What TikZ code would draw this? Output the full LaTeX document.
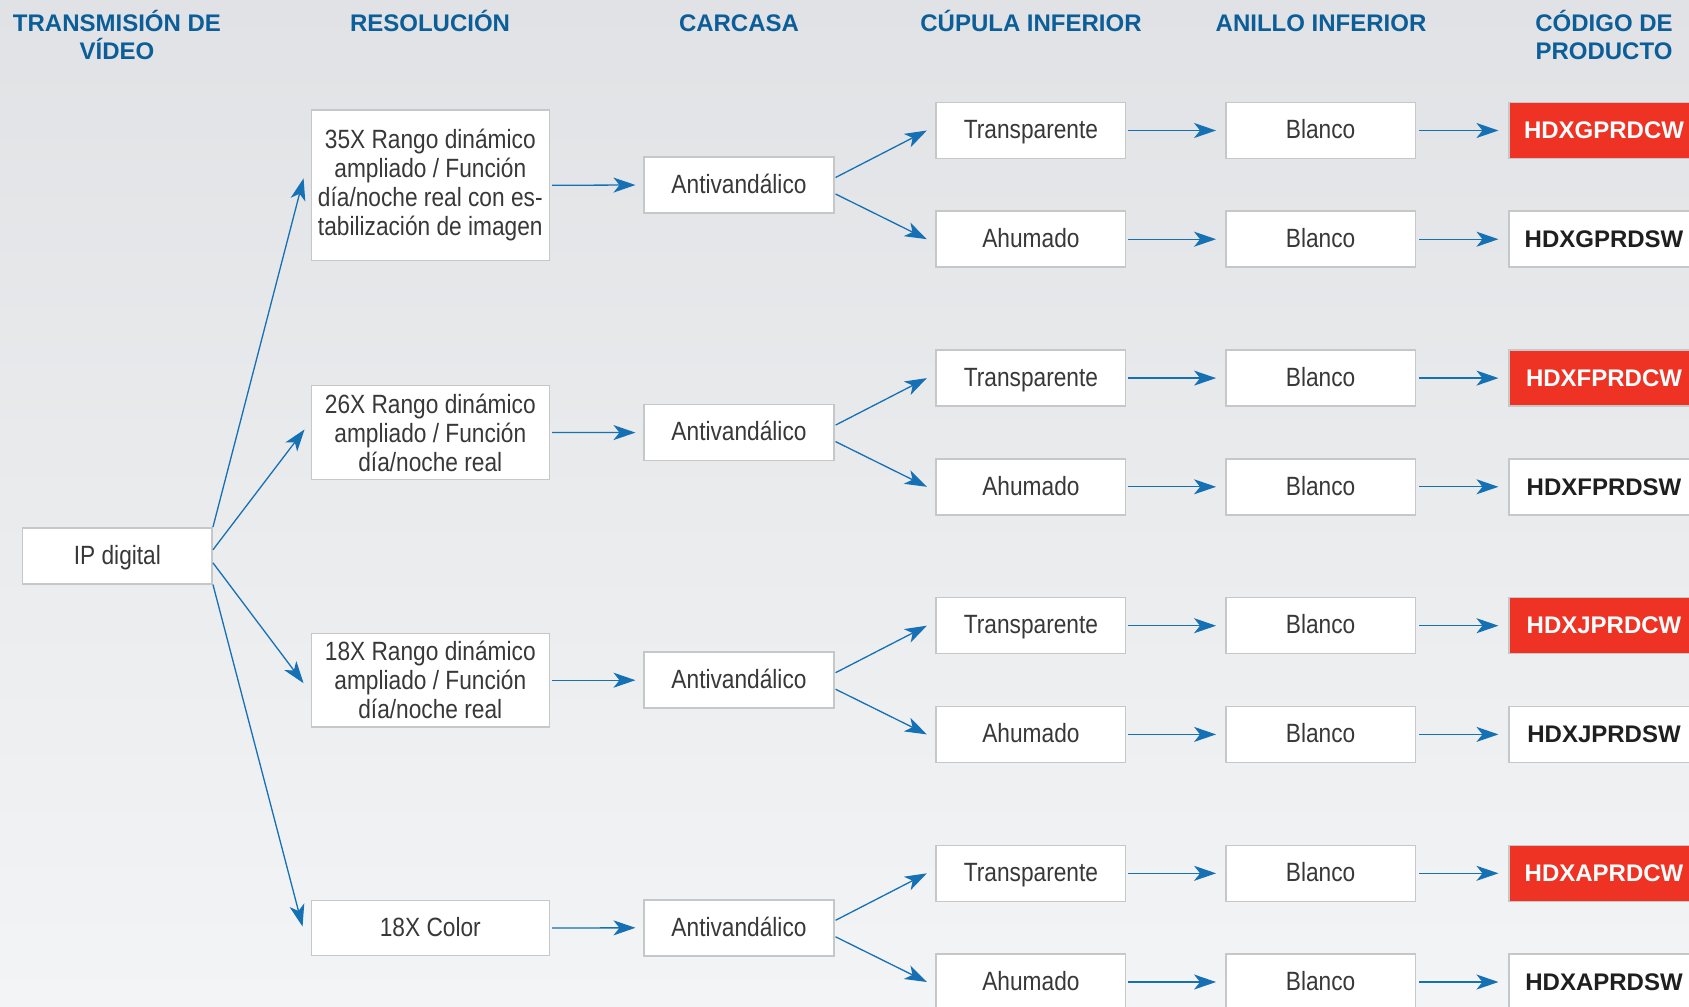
\documentclass[tikz,border=0pt]{standalone}
\usepackage{fontspec}
\setmainfont{Liberation Sans}
\newfontfamily\bodyf{Liberation Sans}[FakeStretch=0.86]
\usetikzlibrary{arrows.meta,calc}
\definecolor{hdrblue}{RGB}{12,94,153}
\definecolor{arrblue}{RGB}{22,112,180}
\definecolor{boxgray}{RGB}{198,199,201}
\definecolor{txtgray}{RGB}{56,56,56}
\definecolor{codered}{RGB}{238,50,36}
\definecolor{bgtop}{RGB}{224,226,229}
\definecolor{bgbot}{RGB}{243,244,245}
\tikzset{
  basebox/.style={draw=boxgray, line width=0.75pt, fill=white, minimum width=94.8pt,
    minimum height=28pt, inner sep=0pt, align=center, text=txtgray,
    font=\bodyf\fontsize{13.2}{14.5}\selectfont},
  box/.style={basebox, text height=11.5pt, text depth=3.3pt},
  resbox/.style={basebox, minimum width=119pt},
  codebox/.style={box, font=\bfseries\fontsize{12}{14}\selectfont, text=black!88},
  redbox/.style={codebox, fill=codered, text=white},
  hdr/.style={font=\bfseries\fontsize{12}{14}\selectfont, text=hdrblue, anchor=base, inner sep=0pt},
  conn/.style={draw=arrblue, line width=0.65pt, -{Stealth[length=11pt,width=7.5pt,inset=3pt]}}
}
\begin{document}
\begin{tikzpicture}[x=0.5pt,y=-0.5pt]
\useasboundingbox (0,0) rectangle (1689,1006);
\shade[top color=bgtop, bottom color=bgbot] (0,0) rectangle (1689,1006);
% headers
\node[hdr] (h1a) at (117,32) {TRANSMISIÓN DE};
\node[hdr] (h1b) at (117,60) {VÍDEO};
\node[hdr] (h2) at (430,32) {RESOLUCIÓN};
\node[hdr] (h3) at (739,32) {CARCASA};
\node[hdr] (h4) at (1031,32) {CÚPULA INFERIOR};
\node[hdr] (h5) at (1321,32) {ANILLO INFERIOR};
\node[hdr] (h6a) at (1604,32) {CÓDIGO DE};
\node[hdr] (h6b) at (1604,60) {PRODUCTO};
% first columns
\node[box] (ip) at (117.4,555.8) {IP digital};
\node[resbox, minimum height=75.4pt] (res0) at (430.3,185.3) {35X Rango dinámico\\ampliado / Función\\día/noche real con es-\\tabilización de imagen};
\node[resbox, minimum height=46.9pt] (res1) at (430.3,432.5) {26X Rango dinámico\\ampliado / Función\\día/noche real};
\node[resbox, minimum height=46.9pt] (res2) at (430.3,680.2) {18X Rango dinámico\\ampliado / Función\\día/noche real};
\node[box, minimum width=119pt, minimum height=27.5pt] (res3) at (430.3,928) {18X Color};
% groups
\foreach \k/\y/\L in {0/185/G,1/432.6/F,2/680.2/J,3/927.8/A} {
  \node[box] (car\k) at (739,\y) {Antivandálico};
  \node[box] (tr\k) at (1030.9,\y-54.5) {Transparente};
  \node[box] (ah\k) at (1030.9,\y+54.2) {Ahumado};
  \node[box] (anT\k) at (1320.6,\y-54.5) {Blanco};
  \node[box] (anA\k) at (1320.6,\y+54.2) {Blanco};
  \node[redbox] (cT\k) at (1604,\y-54.5) {HDX\L PRDCW};
  \node[codebox] (cA\k) at (1604,\y+54.2) {HDX\L PRDSW};
  \draw[conn] ($(res\k.east)+(2,0)$) -- ($(car\k.west)+(-8,0)$);
  \draw[conn] ($(car\k.east)+(1,-7.5)$) -- ($(tr\k.west)+(-8.5,0)$);
  \draw[conn] ($(car\k.east)+(1,9)$) -- ($(ah\k.west)+(-8.5,0)$);
  \draw[conn] ($(tr\k.east)+(2,0)$) -- ($(anT\k.west)+(-9,0)$);
  \draw[conn] ($(ah\k.east)+(2,0)$) -- ($(anA\k.west)+(-9,0)$);
  \draw[conn] ($(anT\k.east)+(3,0)$) -- ($(cT\k.west)+(-10,0)$);
  \draw[conn] ($(anA\k.east)+(3,0)$) -- ($(cA\k.west)+(-10,0)$);
}
% ip to resolution
\draw[conn] (ip.north east) -- ($(res0.west)+(-7,-7)$);
\draw[conn] ($(ip.east)+(0,-6)$) -- ($(res1.west)+(-6,-3)$);
\draw[conn] ($(ip.east)+(0,7)$) -- ($(res2.west)+(-7,3)$);
\draw[conn] (ip.south east) -- ($(res3.west)+(-8,-1.5)$);
\end{tikzpicture}
\end{document}
